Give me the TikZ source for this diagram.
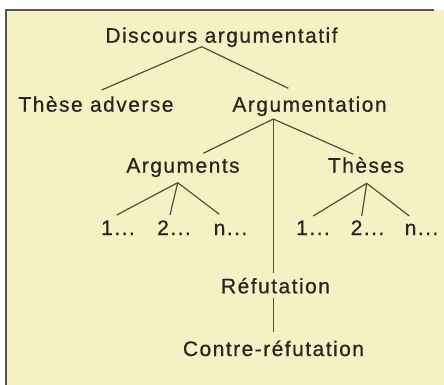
\documentclass[tikz,border=0pt]{standalone}
\usepackage{fontspec}
\setmainfont[LetterSpace=7,FakeBold=0.6]{Liberation Sans}
\usetikzlibrary{calc}
\definecolor{paper}{RGB}{244,241,196}
\definecolor{ink}{RGB}{40,38,30}
\definecolor{wire}{RGB}{84,78,54}
\definecolor{frame}{RGB}{85,85,80}
\tikzset{
  lbl/.style={anchor=base, inner sep=0pt, text=ink, font=\fontsize{21}{25}\selectfont},
  link/.style={draw=wire, line width=1.2pt}
}
\begin{document}
\begin{tikzpicture}[x=1pt,y=-1pt]
\useasboundingbox (0,0) rectangle (444,385);
\fill[white] (0,0) rectangle (444,385);
\fill[paper] (6,10) rectangle (444,385);
\draw[frame, line width=2pt] (434,10) -- (6,10) -- (6,385);

\node[lbl] (disc) at (221.5,42.7) {Discours argumentatif};
\node[lbl] (these) at (96,111.7) {Thèse adverse};
\node[lbl] (argn) at (309.5,111.7) {Argumentation};
\node[lbl] (args) at (183,172.7) {Arguments};
\node[lbl] (theses) at (366,172.7) {Thèses};
\node[lbl] (a1) at (118,235) {1...};
\node[lbl] (a2) at (174,235) {2...};
\node[lbl] (an) at (230.5,235) {n...};
\node[lbl] (t1) at (313,235) {1...};
\node[lbl] (t2) at (367.5,235) {2...};
\node[lbl] (tn) at (421.5,235) {n...};
\node[lbl] (refut) at (275.5,293.3) {Réfutation};
\node[lbl] (contre) at (273.5,356) {Contre-réfutation};

\coordinate (jd) at ($(disc.base)+(-19.8,4)$);
\coordinate (ja) at ($(argn.base)+(-36.2,7.3)$);
\coordinate (jg) at ($(args.base)+(-5.3,10)$);
\coordinate (jt) at ($(theses.base)+(0.7,10.6)$);

\draw[link] ($(these.base)+(5.7,-21.7)$) -- (jd) -- ($(argn.base)+(-21.2,-23.4)$);
\draw[link] ($(args.base)+(20.3,-19.4)$) -- (ja) -- ($(theses.base)+(-12.7,-18.4)$);
\draw[link] (ja) -- ($(refut.base)+(-2.2,-20)$);
\draw[link] ($(refut.base)+(-2.2,5)$) -- ($(contre.base)+(-0.2,-24.3)$);
\draw[link] (jg) -- ($(a1.base)+(-1.3,-20)$);
\draw[link] (jg) -- ($(a2.base)+(-4,-20)$);
\draw[link] (jg) -- ($(an.base)+(-11.2,-20.7)$);
\draw[link] (jt) -- ($(t1.base)+(0.3,-19)$);
\draw[link] (jt) -- ($(t2.base)+(-5.8,-19)$);
\draw[link] (jt) -- ($(tn.base)+(-12.2,-19)$);
\end{tikzpicture}
\end{document}
